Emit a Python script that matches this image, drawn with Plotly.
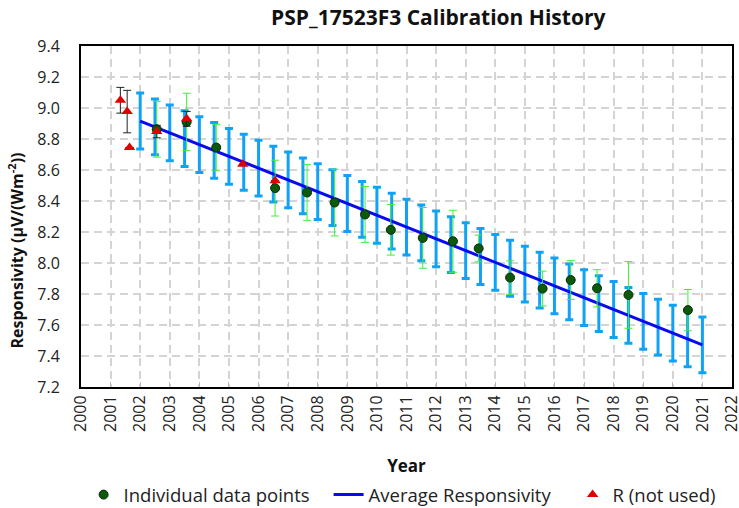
import plotly.graph_objects as go

# ---- data ----
avg_years = [2002.0, 2002.5, 2003.0, 2003.5, 2004.0, 2004.5, 2005.0, 2005.5, 2006.0, 2006.5,
             2007.0, 2007.5, 2008.0, 2008.5, 2009.0, 2009.5, 2010.0, 2010.5, 2011.0, 2011.5,
             2012.0, 2012.5, 2013.0, 2013.5, 2014.0, 2014.5, 2015.0, 2015.5, 2016.0, 2016.5,
             2017.0, 2017.5, 2018.0, 2018.5, 2019.0, 2019.5, 2020.0, 2020.5, 2021.0]
avg_resp = [8.916, 8.878, 8.840, 8.802, 8.764, 8.726, 8.688, 8.650, 8.612, 8.574,
            8.536, 8.498, 8.460, 8.422, 8.384, 8.346, 8.308, 8.270, 8.232, 8.194,
            8.156, 8.118, 8.080, 8.042, 8.004, 7.966, 7.928, 7.890, 7.852, 7.814,
            7.776, 7.738, 7.700, 7.662, 7.624, 7.586, 7.548, 7.510, 7.472]
avg_uncert = [0.18] * len(avg_years)

pt_years = [2002.56, 2003.57, 2004.57, 2006.56, 2007.64, 2008.57, 2009.60, 2010.47, 2011.55,
            2012.57, 2013.44, 2014.50, 2015.60, 2016.55, 2017.44, 2018.50, 2020.51]
pt_resp = [8.863, 8.910, 8.745, 8.483, 8.455, 8.390, 8.313, 8.214, 8.162,
           8.140, 8.094, 7.906, 7.835, 7.890, 7.837, 7.794, 7.696]
pt_uncert = [0.180, 0.185, 0.150, 0.180, 0.180, 0.215, 0.180, 0.163, 0.196,
             0.200, 0.086, 0.108, 0.112, 0.125, 0.120, 0.215, 0.133]

r_years = [2001.33, 2001.56, 2001.64, 2002.56, 2003.57, 2005.47, 2006.56]
r_resp = [9.050, 8.977, 8.745, 8.848, 8.930, 8.637, 8.530]
r_uncert = [0.083, 0.137, None, 0.040, 0.048, None, None]

x_ticks = list(range(2000, 2023))
y_ticks = [7.2, 7.4, 7.6, 7.8, 8.0, 8.2, 8.4, 8.6, 8.8, 9.0, 9.2, 9.4]

FONT = "Open Sans"

fig = go.Figure()

fig.add_trace(go.Scatter(
    x=avg_years, y=avg_resp, mode="lines", name="Average Responsivity",
    line=dict(color="#0a0aee", width=3),
    error_y=dict(type="data", array=avg_uncert, color="#12a2f5", thickness=3, width=4),
    legendrank=2, legendwidth=199,
))

fig.add_trace(go.Scatter(
    x=pt_years, y=pt_resp, mode="markers", name="Individual data points",
    marker=dict(symbol="circle", size=9, color="#0b5a0b", line=dict(color="#0a2a0a", width=1)),
    error_y=dict(type="data", array=pt_uncert, color="#3cf03c", thickness=1, width=4),
    legendrank=1, legendwidth=200,
))

fig.add_trace(go.Scatter(
    x=r_years, y=r_resp, mode="markers", name="R (not used)",
    marker=dict(symbol="triangle-up", size=10, color="#e00000", line=dict(width=0)),
    error_y=dict(type="data", array=r_uncert, color="#222222", thickness=1, width=4),
    legendrank=3,
))

fig.update_layout(
    width=739, height=508,
    margin=dict(l=81, r=7, t=46, b=121, autoexpand=False),
    paper_bgcolor="white", plot_bgcolor="white",
    font=dict(family=FONT, color="#222222"),
    title=dict(text="<b>PSP_17523F3 Calibration History</b>", x=0.593, xanchor="center",
               y=0.965, yanchor="middle", font=dict(size=21, color="#111111"), automargin=False),
    showlegend=True,
    legend=dict(orientation="h", x=0.004, xanchor="left", y=-0.317, yanchor="middle",
                font=dict(size=18.5, color="#222222"), bgcolor="rgba(0,0,0,0)",
                itemwidth=30, tracegroupgap=0),
    annotations=[dict(
        text="<b>Responsivity (µV/(Wm<sup>-2</sup>))</b>", textangle=-90,
        xref="paper", yref="paper", x=-0.1, y=0.40, xanchor="center", yanchor="middle",
        showarrow=False, font=dict(size=16, color="#111111"),
    )],
)

fig.update_xaxes(
    range=[2000, 2022], tickvals=x_ticks, ticktext=[str(t) for t in x_ticks],
    tickangle=-90, tickfont=dict(size=16, color="#222222"), ticklabeloverflow="allow",
    showgrid=True, gridcolor="#d4d4d4", gridwidth=1.5, griddash="8px,5px",
    showline=True, linecolor="black", linewidth=2, mirror=True,
    ticks="inside", ticklen=5, tickcolor="#bbbbbb",
    zeroline=False, automargin=False,
    title=dict(text="<b>Year</b>", font=dict(size=17, color="#111111"), standoff=29),
)

fig.update_yaxes(
    range=[7.2, 9.4], tickvals=y_ticks, ticktext=[f"{v:.1f}" for v in y_ticks],
    tickfont=dict(size=16, color="#222222"),
    showgrid=True, gridcolor="#d4d4d4", gridwidth=1.5, griddash="8px,5px",
    showline=True, linecolor="black", linewidth=2, mirror=True,
    ticks="outside", ticklen=16, tickcolor="rgba(0,0,0,0)",
    zeroline=False, automargin=False,
)

fig.write_html(
    "out.html",
    config={"displayModeBar": False},
    post_script="document.body.style.margin='0';document.body.style.overflow='hidden';",
)
